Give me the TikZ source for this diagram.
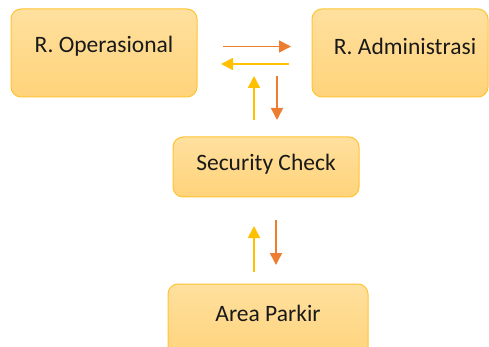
\documentclass[tikz,border=0pt]{standalone}
\usepackage{fontspec}
\setmainfont{Carlito}
\usetikzlibrary{arrows.meta}
\definecolor{boxtop}{RGB}{255,224,158}
\definecolor{boxbot}{RGB}{255,211,122}
\definecolor{boxline}{RGB}{255,196,50}
\definecolor{arrorange}{RGB}{237,125,49}
\definecolor{arryellow}{RGB}{255,192,0}
\tikzset{
  box/.style={draw=boxline, line width=1pt, rounded corners=10pt, top color=boxtop, bottom color=boxbot},
  lbl/.style={font=\fontsize{23.5}{28}\selectfont, text=black!90, inner sep=0pt},
  orarrow/.style={draw=arrorange, line width=1.5pt, -{Triangle[length=12pt,width=12pt]}},
  yearrow/.style={draw=arryellow, line width=1.5pt, -{Triangle[length=12pt,width=12pt]}}
}
\begin{document}
\begin{tikzpicture}[x=1pt,y=-1pt]
\useasboundingbox (0,0) rectangle (489,347);
\clip (0,0) rectangle (489,347);
% boxes
\draw[box] (11,9) rectangle (197,97);
\draw[box] (312,9) rectangle (488,97);
\draw[box] (173,137) rectangle (359,197);
\draw[box] (168,284) rectangle (368,360);
% labels
\node[lbl] (op) at (104,46) {R. Operasional};
\node[lbl] (adm) at (405,46) {R. Administrasi};
\node[lbl] (sec) at (266,164.5) {Security Check};
\node[lbl] (park) at (268,313) {Area Parkir};
% arrow end points
\coordinate (a1s) at (223,46.5);
\coordinate (a1e) at (291,46.5);
\coordinate (a2s) at (289,64);
\coordinate (a2e) at (221,64);
\coordinate (a3s) at (254,120);
\coordinate (a3e) at (254,76);
\coordinate (a4s) at (277,76);
\coordinate (a4e) at (277,120);
\coordinate (a5s) at (254,272);
\coordinate (a5e) at (254,226);
\coordinate (a6s) at (276,220);
\coordinate (a6e) at (276,265);
\draw[orarrow] (a1s) -- (a1e);
\draw[yearrow] (a2s) -- (a2e);
\draw[yearrow] (a3s) -- (a3e);
\draw[orarrow] (a4s) -- (a4e);
\draw[yearrow] (a5s) -- (a5e);
\draw[orarrow] (a6s) -- (a6e);
\end{tikzpicture}
\end{document}
